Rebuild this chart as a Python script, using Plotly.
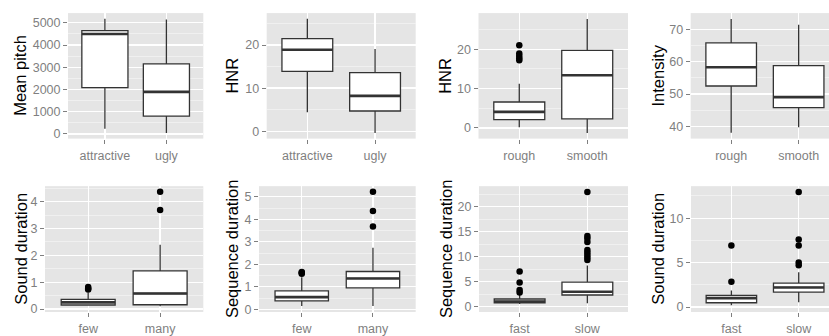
import plotly.graph_objects as go

W, H = 829, 336

# ---------------- data ----------------
pitch_cats = ["attractive", "ugly"]
pitch_lo = [237, 44]
pitch_q1 = [2086, 800]
pitch_med = [4497, 1890]
pitch_q3 = [4645, 3150]
pitch_hi = [5180, 5150]
pitch_out = [[], []]

hnr_attr_cats = ["attractive", "ugly"]
hnr_attr_lo = [4.4, -0.4]
hnr_attr_q1 = [13.9, 4.7]
hnr_attr_med = [18.9, 8.2]
hnr_attr_q3 = [21.5, 13.6]
hnr_attr_hi = [26.1, 19.1]
hnr_attr_out = [[], []]

hnr_rough_cats = ["rough", "smooth"]
hnr_rough_lo = [0.2, -1.25]
hnr_rough_q1 = [2.1, 2.3]
hnr_rough_med = [4.1, 13.4]
hnr_rough_q3 = [6.6, 19.75]
hnr_rough_hi = [11.25, 27.7]
hnr_rough_out = [[17.2, 17.7, 18.3, 18.9, 21.0], []]

int_cats = ["rough", "smooth"]
int_lo = [38.0, 39.7]
int_q1 = [52.5, 45.8]
int_med = [58.3, 49.05]
int_q3 = [65.9, 58.8]
int_hi = [73.25, 71.5]
int_out = [[], []]

snd_few_cats = ["few", "many"]
snd_few_lo = [0.12, 0.1]
snd_few_q1 = [0.15, 0.16]
snd_few_med = [0.25, 0.58]
snd_few_q3 = [0.36, 1.42]
snd_few_hi = [0.62, 2.4]
snd_few_out = [[0.73, 0.77, 0.82], [3.69, 4.37]]

seq_few_cats = ["few", "many"]
seq_few_lo = [0.15, 0.15]
seq_few_q1 = [0.37, 0.95]
seq_few_med = [0.54, 1.37]
seq_few_q3 = [0.82, 1.68]
seq_few_hi = [1.42, 2.73]
seq_few_out = [[1.58, 1.62, 1.66], [3.68, 4.37, 5.22]]

seq_fast_cats = ["fast", "slow"]
seq_fast_lo = [0.5, 0.65]
seq_fast_q1 = [0.72, 2.3]
seq_fast_med = [1.0, 2.95]
seq_fast_q3 = [1.5, 4.9]
seq_fast_hi = [2.4, 8.2]
seq_fast_out = [[2.8, 3.3, 4.8, 7.0],
                [9.3, 9.8, 10.3, 10.8, 11.3, 12.9, 13.6, 14.1, 22.95]]

snd_fast_cats = ["fast", "slow"]
snd_fast_lo = [0.2, 0.55]
snd_fast_q1 = [0.48, 1.67]
snd_fast_med = [1.0, 2.2]
snd_fast_q3 = [1.3, 2.7]
snd_fast_hi = [1.85, 3.9]
snd_fast_out = [[2.85, 6.93], [4.7, 5.0, 6.93, 7.6, 12.96]]

titles = ["Mean pitch", "HNR", "HNR", "Intensity",
          "Sound duration", "Sequence duration", "Sequence duration", "Sound duration"]

# ---------------- layout helpers ----------------
panels = [
    dict(cats=pitch_cats, lo=pitch_lo, q1=pitch_q1, med=pitch_med, q3=pitch_q3, hi=pitch_hi, out=pitch_out,
         px=(68, 203.3), py=(13.3, 140.7), yr=[-212, 5437], dt=1000, tleft=20, xr=[0.4, 2.6]),
    dict(cats=hnr_attr_cats, lo=hnr_attr_lo, q1=hnr_attr_q1, med=hnr_attr_med, q3=hnr_attr_q3, hi=hnr_attr_hi, out=hnr_attr_out,
         px=(266.7, 415.7), py=(13.3, 140.7), yr=[-1.7, 27.4], dt=10, tleft=231.7, xr=[0.4, 2.6]),
    dict(cats=hnr_rough_cats, lo=hnr_rough_lo, q1=hnr_rough_q1, med=hnr_rough_med, q3=hnr_rough_q3, hi=hnr_rough_hi, out=hnr_rough_out,
         px=(478.5, 628), py=(13.3, 140.7), yr=[-2.7, 29.2], dt=10, tleft=445, xr=[0.4, 2.6]),
    dict(cats=int_cats, lo=int_lo, q1=int_q1, med=int_med, q3=int_q3, hi=int_hi, out=int_out,
         px=(690.7, 829), py=(13.3, 140.7), yr=[36.2, 75.1], dt=10, tleft=657.7, xr=[0.4, 2.45]),
    dict(cats=snd_few_cats, lo=snd_few_lo, q1=snd_few_q1, med=snd_few_med, q3=snd_few_q3, hi=snd_few_hi, out=snd_few_out,
         px=(45, 203.3), py=(189, 316.7), yr=[-0.11, 4.58], dt=1, tleft=20.7, xr=[0.4, 2.6]),
    dict(cats=seq_few_cats, lo=seq_few_lo, q1=seq_few_q1, med=seq_few_med, q3=seq_few_q3, hi=seq_few_hi, out=seq_few_out,
         px=(259, 415.7), py=(189, 316.7), yr=[-0.12, 5.47], dt=1, tleft=232, xr=[0.4, 2.6]),
    dict(cats=seq_fast_cats, lo=seq_fast_lo, q1=seq_fast_q1, med=seq_fast_med, q3=seq_fast_q3, hi=seq_fast_hi, out=seq_fast_out,
         px=(479, 628), py=(189, 316.7), yr=[-1.1, 24.1], dt=5, tleft=446, xr=[0.4, 2.6]),
    dict(cats=snd_fast_cats, lo=snd_fast_lo, q1=snd_fast_q1, med=snd_fast_med, q3=snd_fast_q3, hi=snd_fast_hi, out=snd_fast_out,
         px=(691, 829), py=(189, 316.7), yr=[-0.56, 13.6], dt=5, tleft=657.7, xr=[0.4, 2.45]),
]

FONT = "Liberation Sans, Arial, sans-serif"
BOXW = 0.75
LINE = "#333333"

fig = go.Figure()
layout = dict(
    width=W, height=H,
    margin=dict(l=0, r=0, t=0, b=0),
    paper_bgcolor="white", plot_bgcolor="#E5E5E5",
    showlegend=False,
    font=dict(family=FONT),
    annotations=[],
)

for i, p in enumerate(panels):
    n = i + 1
    xa = "x" if n == 1 else f"x{n}"
    ya = "y" if n == 1 else f"y{n}"
    pos = [1, 2]
    fig.add_trace(go.Box(
        x=pos, q1=p["q1"], median=p["med"], q3=p["q3"],
        lowerfence=p["lo"], upperfence=p["hi"],
        width=BOXW, whiskerwidth=0, boxpoints=False,
        fillcolor="white", line=dict(color=LINE, width=1.3),
        xaxis=xa, yaxis=ya, hoverinfo="skip", showlegend=False,
    ))
    # thicker median bars
    mx, my = [], []
    for c, m in zip(pos, p["med"]):
        mx += [c - BOXW / 2, c + BOXW / 2, None]
        my += [m, m, None]
    fig.add_trace(go.Scatter(x=mx, y=my, mode="lines", line=dict(color=LINE, width=2.6),
                             xaxis=xa, yaxis=ya, hoverinfo="skip", showlegend=False))
    # outliers
    ox, oy = [], []
    for c, vals in zip(pos, p["out"]):
        ox += [c] * len(vals)
        oy += list(vals)
    if ox:
        fig.add_trace(go.Scatter(x=ox, y=oy, mode="markers",
                                 marker=dict(color="black", size=6.5, line=dict(width=0)),
                                 xaxis=xa, yaxis=ya, hoverinfo="skip", showlegend=False))

    x0, x1 = p["px"]
    y0, y1 = p["py"]
    layout[f"xaxis{n if n > 1 else ''}"] = dict(
        domain=[x0 / W, min(x1 / W, 1)], anchor=ya, range=p["xr"],
        tickmode="array", tickvals=pos, ticktext=p["cats"],
        showgrid=True, gridcolor="white", gridwidth=1.3,
        zeroline=False, showline=False,
        ticks="outside", ticklen=4, tickwidth=1, tickcolor="#7F7F7F",
        ticklabelstandoff=1,
        tickfont=dict(family=FONT, size=12.5, color="#7F7F7F"),
    )
    layout[f"yaxis{n if n > 1 else ''}"] = dict(
        domain=[1 - y1 / H, 1 - y0 / H], anchor=xa, range=p["yr"],
        tick0=0, dtick=p["dt"],
        showgrid=True, gridcolor="white", gridwidth=1.3,
        minor=dict(dtick=p["dt"] / 2, tick0=0, showgrid=True, gridcolor="#F2F2F2", gridwidth=0.8, ticks=""),
        zeroline=False, showline=False,
        ticks="outside", ticklen=4, tickwidth=1, tickcolor="#7F7F7F",
        tickfont=dict(family=FONT, size=12.5, color="#7F7F7F"),
    )
    layout["annotations"].append(dict(
        text=titles[i], textangle=-90, showarrow=False,
        xref="paper", yref="paper",
        x=p["tleft"] / W, y=1 - (y0 + y1) / 2 / H,
        xanchor="center", yanchor="middle",
        font=dict(family=FONT, size=16.5, color="black"),
    ))

fig.update_layout(**layout)
fig.write_html(
    "out.html",
    config={"displayModeBar": False, "staticPlot": True},
    post_script="document.body.style.margin='0px';document.body.style.overflow='hidden';",
)
